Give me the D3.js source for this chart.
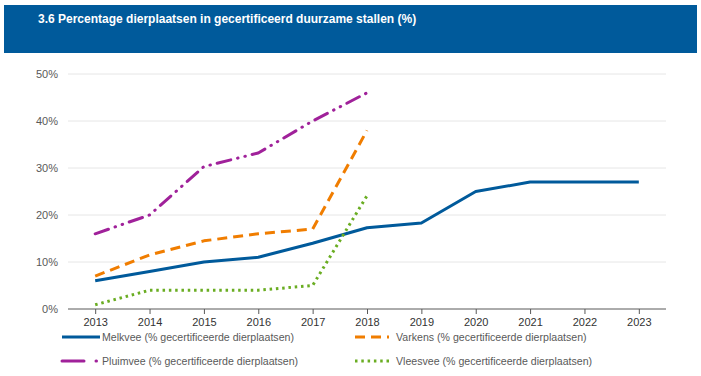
<!DOCTYPE html>
<html><head><meta charset="utf-8">
<script src="https://cdn.jsdelivr.net/npm/d3@7"></script>
<style>body{margin:0;background:#fff;}svg{display:block;}</style>
</head><body>
<script>
const years = ["2013","2014","2015","2016","2017","2018","2019","2020","2021","2022","2023"];
const melkvee = [6, 8, 10, 11, 14, 17.3, 18.3, 25, 27, 27, 27];
const varkens = [7, 11.5, 14.5, 16, 17, 38];
const pluimvee = [16, 20, 30.3, 33.2, 40, 46];
const vleesvee = [0.9, 4, 4, 4, 5, 24.1];
const yTicks = [0, 10, 20, 30, 40, 50];
const seriesNames = ["Melkvee (% gecertificeerde dierplaatsen)","Varkens (% gecertificeerde dierplaatsen)","Pluimvee (% gecertificeerde dierplaatsen)","Vleesvee (% gecertificeerde dierplaatsen)"];
const title = "3.6 Percentage dierplaatsen in gecertificeerd duurzame stallen (%)";

const W = 701, H = 376;
const svg = d3.select("body").append("svg").attr("width", W).attr("height", H);
svg.append("rect").attr("x",4).attr("y",5).attr("width",693).attr("height",48).attr("fill","#005A9B");
svg.append("text").attr("x",38).attr("y",23).attr("fill","#fff")
  .attr("font-family","'Liberation Sans Narrow','Arial Narrow','Liberation Sans',sans-serif")
  .attr("font-weight","bold").attr("font-size",12).text(title);

const x = d3.scalePoint().domain(years).range([68, 666]).padding(0.5);
const y = d3.scaleLinear().domain([0, 50]).range([309, 74]);

const font = "'Liberation Sans',Arial,sans-serif";
const grid = svg.append("g");
grid.selectAll("line").data(yTicks.filter(d=>d>0)).join("line")
  .attr("x1",68).attr("x2",666).attr("y1",d=>y(d)).attr("y2",d=>y(d))
  .attr("stroke","#e6e6e6").attr("stroke-width",1);

const yAx = svg.append("g").attr("transform","translate(62,0)")
  .call(d3.axisLeft(y).tickValues(yTicks).tickFormat(d=>d+"%").tickSize(0).tickPadding(4));
yAx.select(".domain").remove();
yAx.selectAll("text").attr("font-family",font).attr("font-size",11).attr("fill","#595959");

const xAx = svg.append("g").attr("transform","translate(0,309)")
  .call(d3.axisBottom(x).tickSize(5).tickPadding(4).tickSizeOuter(0));
xAx.select(".domain").attr("stroke","#595959").attr("d","M68,0H666");
xAx.selectAll(".tick line").attr("stroke","#595959");
xAx.selectAll("text").attr("font-family",font).attr("font-size",11).attr("fill","#333");

const styles = [
  {data: melkvee, color:"#005A9B", dash:null, cap:"butt"},
  {data: varkens, color:"#F07D00", dash:"10 6", cap:"butt"},
  {data: pluimvee, color:"#A0219A", dash:"14 7 0.5 7 0.5 7", cap:"round"},
  {data: vleesvee, color:"#6AAD22", dash:"2.5 3.8", cap:"butt"}
];
const line = d3.line().x((d,i)=>x(years[i])).y(d=>y(d));
styles.forEach(s=>{
  svg.append("path").datum(s.data).attr("d",line).attr("fill","none")
    .attr("stroke",s.color).attr("stroke-width",3)
    .attr("stroke-dasharray",s.dash).attr("stroke-linecap",s.cap).attr("stroke-linejoin","round");
});

const legPos = [[62,337],[355,337],[62,361],[355,361]];
const legLen = [38,34,36,34];
const textX = [102, 396, 102, 396];
styles.forEach((s,i)=>{
  const [lx,ly] = legPos[i];
  svg.append("line").attr("x1",lx).attr("x2",lx+legLen[i]).attr("y1",ly).attr("y2",ly)
    .attr("stroke",s.color).attr("stroke-width",3)
    .attr("stroke-dasharray", i===2 ? "22 12 0.5 20" : s.dash).attr("stroke-linecap",s.cap);
  svg.append("text").attr("x", textX[i]).attr("y",ly+4)
    .attr("font-family",font).attr("font-size",10.6).attr("fill","#595959").text(seriesNames[i]);
});
</script>
</body></html>
